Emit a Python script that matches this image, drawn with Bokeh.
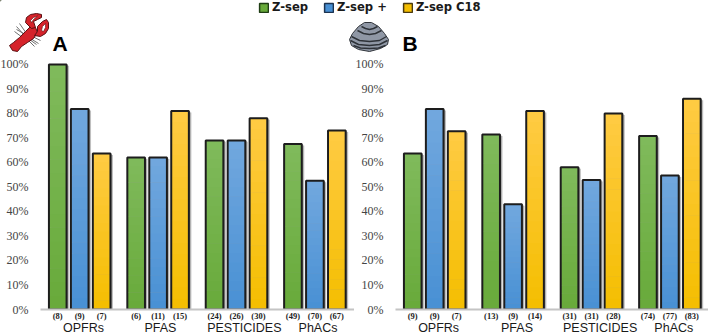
from bokeh.embed import file_html
from bokeh.resources import INLINE
from bokeh.core.properties import value
from bokeh.plotting import figure, ColumnDataSource
from bokeh.models import Range1d, FixedTicker, LinearAxis, Legend, LegendItem, Column, Row

methods = ["Z-sep", "Z-sep +", "Z-sep C18"]
groups = ["OPFRs", "PFAS", "PESTICIDES", "PhACs"]
a_zsep = [100, 62, 69, 67.5]
a_zsep_plus = [81.8, 62, 69, 52.5]
a_zsep_c18 = [63.6, 81, 78, 73]
a_counts = [["(8)", "(9)", "(7)"], ["(6)", "(11)", "(15)"], ["(24)", "(26)", "(30)"], ["(49)", "(70)", "(67)"]]
b_zsep = [63.6, 71.4, 58, 70.8]
b_zsep_plus = [81.8, 42.9, 52.8, 54.7]
b_zsep_c18 = [72.7, 81, 80, 86]
b_counts = [["(9)", "(9)", "(7)"], ["(13)", "(9)", "(14)"], ["(31)", "(31)", "(28)"], ["(74)", "(77)", "(83)"]]
a_label_pos = [0.548, 1.529, 2.6, 3.54]
b_label_pos = [0.55, 1.55, 2.61, 3.55]

TOP = {"Z-sep": (128, 186, 92), "Z-sep +": (114, 168, 222), "Z-sep C18": (255, 203, 68)}
BOT = {"Z-sep": (104, 170, 58), "Z-sep +": (72, 144, 212), "Z-sep C18": (244, 190, 0)}
EDGE = "#1d1d1d"
OFF = 0.28
BW = 0.225
BANDS = 18
HEAD_H = 56


def hexcol(c):
    return "#%02x%02x%02x" % tuple(int(round(v)) for v in c)


def quiet(axis):
    axis.major_tick_line_color = None
    axis.minor_tick_line_color = None
    axis.major_tick_out = 0
    axis.major_tick_in = 0
    axis.minor_tick_out = 0
    axis.minor_tick_in = 0


def panel(series, counts, label_pos, fw, left):
    p = figure(frame_width=fw, frame_height=250, x_range=Range1d(0, fw / 78.4), y_range=Range1d(0, 102),
               output_backend="svg", toolbar_location=None, min_border_left=left, min_border_right=0,
               min_border_top=59 - HEAD_H, min_border_bottom=0, outline_line_color=None,
               background_fill_color=None, border_fill_color=None)
    p.grid.visible = False
    p.yaxis.ticker = FixedTicker(ticks=list(range(0, 101, 10)))
    p.yaxis.major_label_overrides = {v: f"{v}%" for v in range(0, 101, 10)}
    p.yaxis.axis_line_color = None
    quiet(p.yaxis[0])
    p.yaxis.major_label_standoff = 12
    p.yaxis.major_label_text_font = "Liberation Serif"
    p.yaxis.major_label_text_font_size = "12px"
    p.yaxis.major_label_text_color = "#444444"

    tick_x, tick_t = [], []
    for m, (method, vals) in enumerate(zip(methods, series)):
        xs = [g + 0.5 + (m - 1) * OFF for g in range(len(vals))]
        p.vbar(x=[x + 0.032 for x in xs], top=[v - 0.6 for v in vals], bottom=0, width=BW,
               fill_color="#8a8a8a", fill_alpha=0.55, line_color=None)
        p.vbar(x=[x + 0.018 for x in xs], top=[v - 0.3 for v in vals], bottom=0, width=BW,
               fill_color="#777777", fill_alpha=0.6, line_color=None)
        bx, bb, bt, bc = [], [], [], []
        for x, v in zip(xs, vals):
            for k in range(BANDS):
                f = (k + 0.5) / BANDS
                bx.append(x)
                bb.append(v * k / BANDS)
                bt.append(v * (k + 1) / BANDS + 0.2 if k < BANDS - 1 else v)
                bc.append(hexcol([BOT[method][i] + (TOP[method][i] - BOT[method][i]) * f for i in range(3)]))
        p.vbar(x="x", top="t", bottom="b", width=BW, fill_color="c", line_color=None,
               source=ColumnDataSource(dict(x=bx, t=bt, b=bb, c=bc)))
        p.vbar(x=xs, top=vals, bottom=0, width=BW, fill_color=None, line_color=EDGE, line_width=2)
        for g, x in enumerate(xs):
            tick_x.append(round(x, 4))
            tick_t.append(counts[g][m])

    ax = p.xaxis[0]
    ax.ticker = FixedTicker(ticks=tick_x)
    ax.major_label_overrides = dict(zip(tick_x, tick_t))
    ax.axis_line_color = "#c4c4c4"
    ax.axis_line_width = 2
    quiet(ax)
    ax.major_label_standoff = 1
    ax.major_label_text_font = "Liberation Serif"
    ax.major_label_text_font_style = "bold"
    ax.major_label_text_font_size = "8.5px"
    ax.major_label_text_color = "#222222"
    ax2 = LinearAxis(ticker=FixedTicker(ticks=label_pos), major_label_overrides=dict(zip(label_pos, groups)))
    ax2.axis_line_color = None
    quiet(ax2)
    ax2.major_label_standoff = -3
    ax2.major_label_text_font = "Liberation Sans"
    ax2.major_label_text_font_size = "12.5px"
    ax2.major_label_text_color = "#1a1a1a"
    p.add_layout(ax2, "below")
    return p


# decorative icons, in page pixels
LOB_BODY = [(9, 45), (13, 42), (19, 37), (25, 31), (30, 26), (35, 27), (37, 32), (33, 38), (27, 42), (21, 46), (17, 51), (12, 50)]
LOB_CLAW1 = [(31, 28), (25, 22), (26, 17), (30, 14), (36, 13), (41, 14), (41, 17), (37, 19), (33, 21), (35, 27)]
LOB_CLAW1_HOLE = [(30, 20), (33, 17), (37, 15.5), (33, 19), (31, 22)]
LOB_CLAW2 = [(37, 31), (37, 26), (42, 21), (46, 19), (48, 22), (48, 28), (45, 33), (40, 36), (34, 35)]
LOB_CLAW2_HOLE = [(41, 30), (42, 26), (45, 23), (45, 27), (43, 31)]
LOB_LEGS = [[(24, 35), (16, 26)], [(26, 33), (19, 23)], [(22, 37), (14, 31)], [(30, 38), (38, 43)],
            [(28, 40), (34, 46)], [(32, 36), (40, 40)], [(25, 34), (16, 29)], [(29, 39), (36, 44)]]
CLAM = [(349, 39), (352, 33), (358, 26), (364, 22), (371, 22), (378, 26), (384, 33), (388, 39), (387, 44), (380, 48), (369, 51), (358, 49), (351, 45)]
RIDGES = [
    [(350, 40), (358, 44), (369, 45), (379, 44), (387, 40)],
    [(351, 36), (359, 40), (369, 41), (379, 40), (386, 36)],
    [(357, 30), (363, 33), (369, 34), (375, 33), (381, 30)],
    [(361, 26), (365, 28), (369, 29), (373, 28), (377, 26)],
    [(353, 45), (360, 47.5), (369, 48), (378, 47.5), (385, 45)],
]


def unz(pts):
    return [q[0] for q in pts], [q[1] for q in pts]


head = figure(width=708, height=HEAD_H, x_range=Range1d(0, 708), y_range=Range1d(HEAD_H, 0), output_backend="svg",
              toolbar_location=None, min_border=0, outline_line_color=None, x_axis_location=None, y_axis_location=None)
head.grid.visible = False
for pts in LOB_LEGS:
    x, y = unz(pts)
    head.line(x, y, line_color="#6f6f6f", line_width=1)
for pts in (LOB_BODY, LOB_CLAW1, LOB_CLAW2):
    x, y = unz(pts)
    head.patch(x, y, fill_color="#d5232a", line_color="#5a1012", line_width=1)
for pts in (LOB_CLAW1_HOLE, LOB_CLAW2_HOLE):
    x, y = unz(pts)
    head.patch(x, y, fill_color="#ffffff", line_color="#5a1012", line_width=0.6)
x, y = unz(CLAM)
head.patch(x, y, fill_color="#8f97a5", line_color="#30343a", line_width=1)
for pts in RIDGES:
    x, y = unz(pts)
    head.line(x, y, line_color="#2e3238", line_width=1.4)
head.text(x=[52, 402], y=[42.5, 42.5], text=["A", "B"], text_baseline="middle", text_align="left",
          text_font=value("Liberation Sans"), text_font_style="bold", text_font_size="21px", text_color="#000000")

items = []
LEG_EDGE = {"Z-sep": "#1f3d14", "Z-sep +": "#1c3350", "Z-sep C18": "#4a3a10"}
for m in methods:
    r = head.vbar(x=[-50], top=[-50], bottom=[-60], width=1, fill_color=hexcol(BOT[m]), line_color=LEG_EDGE[m], line_width=1.5)
    items.append(LegendItem(label=m, renderers=[r]))
leg = Legend(items=items, orientation="horizontal", location=(258, HEAD_H - 14), background_fill_alpha=0, border_line_color=None,
             padding=0, margin=0, spacing=15, glyph_width=11, glyph_height=11, label_standoff=3,
             label_text_font="DejaVu Sans", label_text_font_style="bold", label_text_font_size="11.6px",
             label_text_color="#1a1a1a", label_height=12)
head.add_layout(leg)

pa = panel([a_zsep, a_zsep_plus, a_zsep_c18], a_counts, a_label_pos, 314, 44)
pb = panel([b_zsep, b_zsep_plus, b_zsep_c18], b_counts, b_label_pos, 313, 47)
pa.margin = (0, 0, 0, -4)
pb.margin = (0, 0, 0, -6)

page = Column(head, Row(pa, pb, spacing=0), spacing=0)
open("out.html", "w").write(file_html(page, INLINE))
